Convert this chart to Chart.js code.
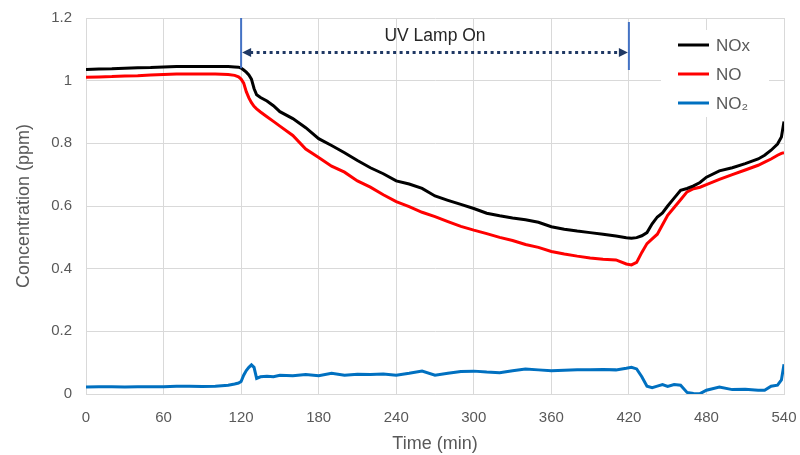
<!DOCTYPE html>
<html>
<head>
<meta charset="utf-8">
<script src="https://cdn.jsdelivr.net/npm/chart.js@4.4.1/dist/chart.umd.min.js"></script>
<style>
  html, body { margin: 0; padding: 0; background: #fff; }
  #wrap { width: 800px; height: 455px; }
</style>
</head>
<body>
<div id="wrap"><canvas id="chart"></canvas></div>
<script>
// time in minutes
const times = [0, 10, 20, 30, 40, 50, 60, 70, 80, 90, 100, 110, 115, 118, 120, 122, 124, 126, 128, 130,
  132, 135, 140, 145, 150, 160, 170, 180, 190, 200, 210, 220, 230, 240, 250, 260, 270, 280, 290, 300,
  310, 320, 330, 340, 350, 360, 370, 380, 390, 400, 410, 418, 422, 426, 430, 434, 438, 442, 446, 450,
  455, 460, 465, 470, 475, 480, 490, 500, 510, 520, 525, 530, 535, 538, 540];

const noxValues = [1.036, 1.037, 1.038, 1.040, 1.041, 1.042, 1.044, 1.045, 1.045, 1.045, 1.045, 1.045, 1.044, 1.043, 1.040, 1.034, 1.027, 1.018, 1.005, 0.975,
  0.955, 0.946, 0.935, 0.920, 0.901, 0.879, 0.850, 0.815, 0.793, 0.770, 0.745, 0.722, 0.703, 0.680, 0.670, 0.656, 0.632, 0.618, 0.605, 0.592,
  0.577, 0.569, 0.562, 0.556, 0.548, 0.534, 0.526, 0.520, 0.515, 0.510, 0.504, 0.499, 0.497, 0.499, 0.505, 0.515, 0.543, 0.565, 0.578, 0.600,
  0.625, 0.650, 0.656, 0.664, 0.675, 0.692, 0.712, 0.722, 0.735, 0.750, 0.762, 0.778, 0.798, 0.820, 0.870];

const noValues = [1.011, 1.012, 1.013, 1.015, 1.016, 1.018, 1.020, 1.021, 1.021, 1.021, 1.021, 1.020, 1.017, 1.012, 1.005, 0.992, 0.965, 0.945, 0.930, 0.918,
  0.910, 0.900, 0.885, 0.870, 0.855, 0.825, 0.782, 0.755, 0.727, 0.708, 0.680, 0.660, 0.636, 0.614, 0.598, 0.580, 0.566, 0.550, 0.535, 0.523,
  0.512, 0.500, 0.490, 0.477, 0.468, 0.455, 0.447, 0.440, 0.434, 0.430, 0.428, 0.415, 0.412, 0.420, 0.452, 0.480, 0.495, 0.510, 0.540, 0.570,
  0.595, 0.620, 0.645, 0.655, 0.660, 0.668, 0.685, 0.700, 0.715, 0.730, 0.740, 0.750, 0.762, 0.768, 0.770];

const no2Values = [0.022, 0.023, 0.023, 0.022, 0.023, 0.023, 0.023, 0.025, 0.025, 0.024, 0.025, 0.028, 0.032, 0.035, 0.040, 0.060, 0.075, 0.085, 0.093, 0.085,
  0.050, 0.055, 0.057, 0.055, 0.060, 0.058, 0.062, 0.058, 0.066, 0.060, 0.063, 0.062, 0.064, 0.060, 0.066, 0.073, 0.060, 0.066, 0.072, 0.073,
  0.070, 0.068, 0.074, 0.080, 0.077, 0.074, 0.076, 0.077, 0.077, 0.078, 0.077, 0.082, 0.085, 0.080, 0.055, 0.025, 0.020, 0.025, 0.030, 0.024,
  0.030, 0.028, 0.005, 0.002, 0.001, 0.012, 0.022, 0.014, 0.015, 0.012, 0.012, 0.025, 0.028, 0.045, 0.095];

const seriesNames = ['NOx', 'NO', 'NO\u2082'];
const seriesColors = ['#000000', '#ff0000', '#0070c0'];
const xTicks = [0, 60, 120, 180, 240, 300, 360, 420, 480, 540];
const yTicks = [0, 0.2, 0.4, 0.6, 0.8, 1, 1.2];
const lampOn = [120, 420];
const lampLabel = 'UV Lamp On';

const FONT = '"Liberation Sans", Arial, sans-serif';
const GREY = '#595959';

function toPoints(vals) {
    return times.map((t, i) => ({ x: t, y: vals[i] }));
}

// UV lamp bracket: two blue markers and a dotted double arrow
const lampPlugin = {
    id: 'lamp',
    afterDatasetsDraw(chart) {
        const { ctx, scales: { x, y } } = chart;
        const x1 = x.getPixelForValue(lampOn[0]);
        const x2 = x.getPixelForValue(lampOn[1]);
        ctx.save();
        ctx.strokeStyle = '#4472c4';
        ctx.lineWidth = 2;
        ctx.beginPath();
        ctx.moveTo(x1, y.getPixelForValue(1.2));
        ctx.lineTo(x1, y.getPixelForValue(1.04));
        ctx.moveTo(x2, y.getPixelForValue(1.187));
        ctx.lineTo(x2, y.getPixelForValue(1.034));
        ctx.stroke();

        const ay = y.getPixelForValue(1.09);
        ctx.strokeStyle = '#1f3864';
        ctx.fillStyle = '#1f3864';
        ctx.lineWidth = 3;
        ctx.setLineDash([3, 3.5]);
        ctx.beginPath();
        ctx.moveTo(x1 + 9, ay);
        ctx.lineTo(x2 - 9, ay);
        ctx.stroke();
        ctx.setLineDash([]);
        ctx.beginPath();
        ctx.moveTo(x1 + 1, ay);
        ctx.lineTo(x1 + 10, ay - 4.5);
        ctx.lineTo(x1 + 10, ay + 4.5);
        ctx.closePath();
        ctx.fill();
        ctx.beginPath();
        ctx.moveTo(x2 - 1, ay);
        ctx.lineTo(x2 - 10, ay - 4.5);
        ctx.lineTo(x2 - 10, ay + 4.5);
        ctx.closePath();
        ctx.fill();

        ctx.fillStyle = '#262626';
        ctx.font = '17.5px ' + FONT;
        ctx.textAlign = 'center';
        ctx.textBaseline = 'middle';
        ctx.fillText(lampLabel, (x1 + x2) / 2, y.getPixelForValue(1.143));
        ctx.restore();
    }
};

// legend box sitting inside the plot, top right
const boxLegend = {
    id: 'boxLegend',
    afterDraw(chart, args, opts) {
        const { ctx } = chart;
        ctx.save();
        ctx.fillStyle = '#fff';
        ctx.fillRect(opts.left, opts.top, opts.width, opts.height);
        ctx.font = '17px ' + FONT;
        ctx.textBaseline = 'middle';
        chart.data.datasets.forEach((ds, i) => {
            const cy = opts.firstY + i * opts.rowGap;
            ctx.strokeStyle = ds.borderColor;
            ctx.lineWidth = 3;
            ctx.beginPath();
            ctx.moveTo(opts.lineX, cy);
            ctx.lineTo(opts.lineX + 31, cy);
            ctx.stroke();
            ctx.fillStyle = GREY;
            ctx.fillText(ds.label, opts.lineX + 38, cy + 1);
        });
        ctx.restore();
    }
};

const chart = new Chart(document.getElementById('chart'), {
    type: 'line',
    data: {
        datasets: [noxValues, noValues, no2Values].map((vals, i) => ({
            label: seriesNames[i],
            data: toPoints(vals),
            borderColor: seriesColors[i],
            backgroundColor: seriesColors[i],
            borderWidth: 3,
            pointRadius: 0,
            tension: 0,
            fill: false
        }))
    },
    options: {
        responsive: true,
        maintainAspectRatio: false,
        animation: false,
        layout: { padding: { top: 18, right: 16, left: 0, bottom: 0 } },
        plugins: {
            legend: { display: false },
            tooltip: { enabled: false },
            boxLegend: { left: 661, top: 30, width: 108, height: 87, lineX: 678, firstY: 45, rowGap: 29 }
        },
        scales: {
            x: {
                type: 'linear',
                min: 0, max: 540,
                afterBuildTicks: s => { s.ticks = xTicks.map(v => ({ value: v })); },
                afterFit: s => { s.height = 61; s.paddingLeft = 0; s.paddingRight = 0; },
                grid: { color: '#d9d9d9', lineWidth: 1, drawTicks: false },
                border: { color: '#d9d9d9' },
                ticks: { color: GREY, font: { family: FONT, size: 15 }, padding: 15, maxRotation: 0 },
                title: { display: true, text: 'Time (min)', color: GREY, font: { family: FONT, size: 18 }, padding: 0 }
            },
            y: {
                min: 0, max: 1.2,
                afterBuildTicks: s => { s.ticks = yTicks.map(v => ({ value: v })); },
                afterFit: s => { s.width = 86; s.paddingTop = 0; s.paddingBottom = 0; },
                grid: { color: '#d9d9d9', lineWidth: 1, drawTicks: false },
                border: { color: '#d9d9d9' },
                ticks: { color: GREY, font: { family: FONT, size: 15 }, padding: 14, callback: v => String(+v.toFixed(1)) },
                title: { display: true, text: 'Concentration (ppm)', color: GREY, font: { family: FONT, size: 18 }, padding: 13 }
            }
        }
    },
    plugins: [lampPlugin, boxLegend]
});
</script>
</body>
</html>
